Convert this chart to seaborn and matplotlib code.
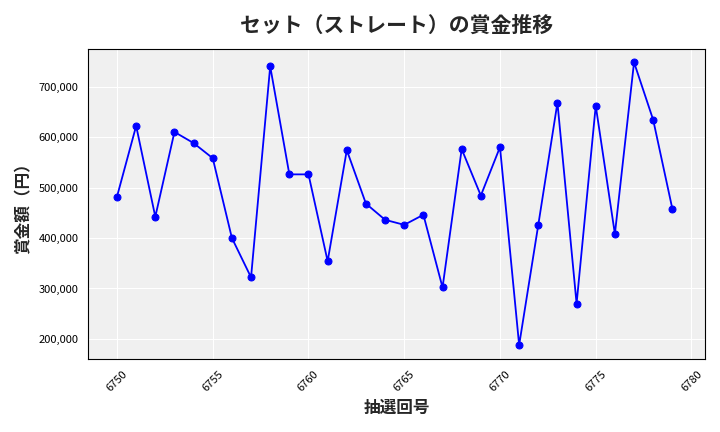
import matplotlib
matplotlib.use("Agg")
import matplotlib.pyplot as plt
import seaborn as sns
import pandas as pd
from matplotlib.ticker import FuncFormatter

draws = list(range(6750, 6780))
prizes = [482000, 622000, 442000, 610000, 588000, 558000, 400000, 322000, 740000, 526000,
          526000, 354000, 574000, 468000, 436000, 426000, 446000, 302000, 576000, 484000,
          580000, 188000, 426000, 668000, 270000, 662000, 408000, 748000, 634000, 458000]

sns.set_style("whitegrid")
plt.rcParams['font.family'] = ['Noto Sans CJK JP', 'DejaVu Sans']

df = pd.DataFrame({"draw": draws, "prize": prizes})
fig, ax = plt.subplots(figsize=(7.2, 4.32), dpi=100)
ax.set_facecolor("#f0f0f0")
sns.lineplot(data=df, x="draw", y="prize", color="blue", marker="o", markersize=5,
             markeredgecolor="blue", linewidth=1.3, ax=ax)
ax.grid(True, color="white", linewidth=0.8)
for s in ax.spines.values():
    s.set_color("black"); s.set_linewidth(0.8)
ax.set_title("セット（ストレート）の賞金推移", fontsize=15, fontweight="bold", pad=12)
ax.set_xlabel("抽選回号", fontsize=12, fontweight="bold")
ax.set_ylabel("賞金額（円）", fontsize=12, fontweight="bold")
ax.yaxis.set_major_formatter(FuncFormatter(lambda v, p: f"{int(v):,}"))
ax.tick_params(axis="x", labelrotation=45, labelsize=8, colors="black")
ax.tick_params(axis="y", labelsize=8, colors="black")
ax.set_xlim(6748.5, 6780.7)
ax.set_ylim(160000, 775000)
fig.tight_layout()
fig.savefig("out.png")
